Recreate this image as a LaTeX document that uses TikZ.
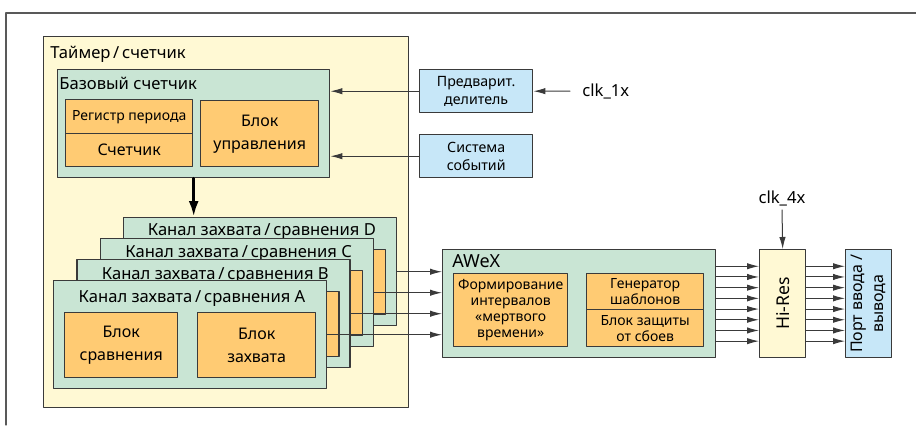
\documentclass[tikz,border=0pt]{standalone}
\usepackage{fontspec}
\setmainfont{Noto Sans}
\usetikzlibrary{arrows.meta}

\definecolor{timerfill}{HTML}{FFF9D4}
\definecolor{chanfill}{HTML}{C9E5D4}
\definecolor{blockfill}{HTML}{FFCB73}
\definecolor{perifill}{HTML}{C7E7F8}
\definecolor{edgegray}{HTML}{3A3A3A}

\tikzset{
  % размер блока в пикселях эскиза, привязка за левый верхний угол
  wh/.style 2 args={minimum width={#1*0.5pt}, minimum height={#2*0.5pt}, anchor=north west},
  box/.style={draw=edgegray, line width=0.7pt, inner sep=0pt, align=center},
  timerbox/.style={box, fill=timerfill},
  chanbox/.style={box, fill=chanfill},
  blockbox/.style={box, fill=blockfill, font=\fontsize{8}{11.5}\selectfont},
  smallblock/.style={box, fill=blockfill, font=\fontsize{7}{7.9}\selectfont},
  peribox/.style={box, fill=perifill, font=\fontsize{7.1}{9.2}\selectfont},
  boxtitle/.style={anchor=base west, inner sep=0pt, font=\fontsize{8.3}{10}\selectfont},
  chantitle/.style={anchor=base, inner sep=0pt, font=\fontsize{8.3}{10}\selectfont},
  arr/.style={draw=edgegray, line width=0.5pt, -{Latex[length=6pt,width=3.2pt]}},
}

\begin{document}
\begin{tikzpicture}[x=0.5pt, y=-0.5pt, line cap=round, line join=round]
\useasboundingbox (0,0) rectangle (916,425);

% === Рамка ===
\draw[gray!70!black, line width=0.6pt] (6,425) -- (6,13) -- (916,13);

% === Таймер/счетчик ===
\node[timerbox, wh={365}{371}] (timer) at (43,36) {};
\node[boxtitle] (timertitle) at (50,58) {Таймер\,/\,счетчик};

% Базовый счетчик
\node[chanbox, wh={272}{108}] (base) at (57,69) {};
\node[boxtitle] (basetitle) at (59,89) {Базовый счетчик};
\node[smallblock, wh={127}{34}] (period) at (65,99) {Регистр периода};
\node[blockbox, wh={127}{33}] (counter) at (65,133) {Счетчик};
\node[blockbox, wh={118}{66}] (ctrl) at (200,100) {Блок\\управления};

% Каналы захвата/сравнения (D сзади, A спереди; текст блоков виден только у A)
\foreach \ch/\i/\ty/\cmptext/\captext in {D/3/235/{}/{}, C/2/257/{}/{}, B/1/279/{}/{},
        A/0/302/{Блок\\сравнения}/{Блок\\захвата}}{
    \pgfmathsetmacro\dx{\i*23.3}
    \pgfmathsetmacro\dy{\i*21}
    \node[chanbox, wh={273}{108}] (chan\ch) at (53+\dx,280-\dy) {};
    \node[chantitle] (chantitle\ch) at (192+\dx,\ty) {Канал захвата\,/\,сравнения \ch};
    \node[blockbox, wh={113}{65}] (cmp\ch) at (64+\dx,312-\dy) {\cmptext};
    \node[blockbox, wh={118}{65}] (cap\ch) at (197+\dx,312-\dy) {\captext};
}

% Толстая стрелка к каналам
\draw[draw=black, line width=1.6pt, -{Latex[length=8pt,width=5pt]}]
    (base.south) -- (base.south |- chanD.north);

% === Предделитель и система событий ===
\node[peribox, wh={113}{43}] (presc) at (419,69) {Предварит.\\делитель};
\node[peribox, wh={113}{43}] (evsys) at (419,134) {Система\\событий};
\draw[arr] (presc.west) -- (presc.west -| base.east);
\draw[arr] (evsys.west) -- (evsys.west -| base.east);
\node[anchor=west, inner sep=6pt, font=\fontsize{8.3}{10}\selectfont] (clkone) at (570,91) {clk\_1x};
\draw[arr] (clkone.west) -- (presc.east);

% === AWeX ===
\node[chanbox, wh={273}{108}] (awex) at (442,249) {};
\node[boxtitle, font=\fontsize{9}{10}\selectfont] (awextitle) at (452,267) {AWeX};
\node[smallblock, wh={114}{73}] (deadtime) at (453,273) {Формирование\\интервалов\\«мертвого\\времени»};
\node[smallblock, wh={117}{36}] (pattern) at (586,273) {Генератор\\шаблонов};
\node[smallblock, wh={117}{37}] (fault) at (586,309) {Блок защиты\\от сбоев};

% Линии от каналов к AWeX
\foreach \ch in {D,C,B,A}{
    \draw[arr] (chan\ch.east) -- (chan\ch.east -| awex.west);
}

% === Hi-Res и порт ===
\node[timerbox, wh={46}{108}] (hires) at (759,249) {};
\node[rotate=90, font=\fontsize{8.8}{10}\selectfont] (hirestext) at (hires.center) {Hi-Res};
\node[peribox, wh={46}{108}] (port) at (845,249) {};
\node[rotate=90, align=center, font=\fontsize{8}{10.5}\selectfont] (porttext) at (port.center) {Порт ввода /\\вывода};
\node[font=\fontsize{8.3}{10}\selectfont, inner sep=2pt] (clkfour) at (782,198) {clk\_4x};
\draw[arr] (clkfour.south) -- (hires.north);

% 8 выходов
\foreach \k in {0,...,7}{
    \draw[arr] ([yshift={(3.5-\k)*5.35pt}]awex.east) -- ([yshift={(3.5-\k)*5.35pt}]hires.west);
    \draw[arr] ([yshift={(3.5-\k)*5.35pt}]hires.east) -- ([yshift={(3.5-\k)*5.35pt}]port.west);
}

\end{tikzpicture}
\end{document}
